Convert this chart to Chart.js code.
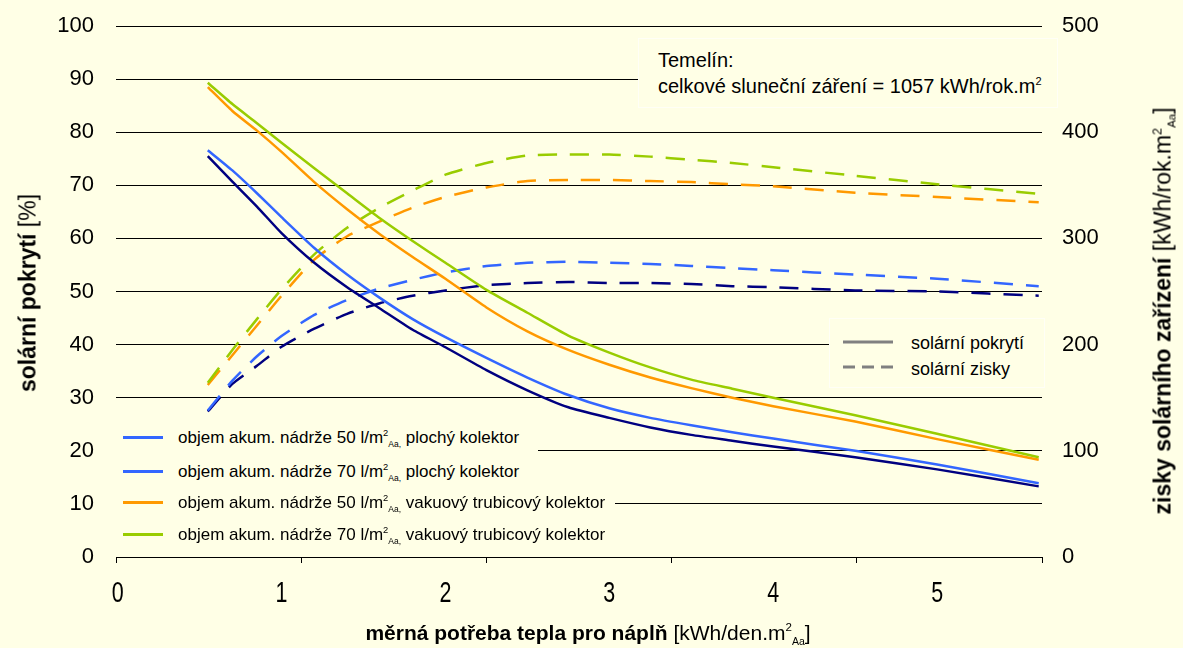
<!DOCTYPE html>
<html>
<head>
<meta charset="utf-8">
<script src="https://cdn.jsdelivr.net/npm/chart.js@4.4.1/dist/chart.umd.min.js"></script>
<style>
  body { margin: 0; background: #FFFFE6; }
  #wrap { position: relative; width: 1183px; height: 648px; font-family: "Liberation Sans", Arial, sans-serif; color: #000; }
  canvas { position: absolute; left: 0; top: 0; }
  .box { position: absolute; background: #FFFFE6; }
  .sup { font-size: 0.55em; position: relative; top: -0.75em; }
  .sub { font-size: 0.5em; position: relative; top: 0.45em; }
  .title { position: absolute; white-space: nowrap; transform: translate(-50%, -50%); }
  .vtitle { transform: translate(-50%, -50%) rotate(-90deg); }
  .row { position: absolute; left: 7px; height: 20px; font-size: 17px; line-height: 20px; white-space: nowrap; }
  .sw { display: inline-block; width: 40px; height: 3px; vertical-align: middle; margin-right: 15px; position: relative; top: -1px; }
</style>
</head>
<body>
<div id="wrap">
  <canvas id="solarChart" width="1183" height="648"></canvas>

  <!-- popisky os -->
  <div class="title vtitle" style="left:28px; top:293px; font-size:23px;"><b>solární pokrytí</b> [%]</div>
  <div class="title vtitle" style="left:1163px; top:311px; font-size:23px;"><b>zisky solárního zařízení</b> [kWh/rok.m<span class="sup">2</span><span class="sub">Aa</span>]</div>
  <div class="title" style="left:588px; top:633px; font-size:21px;"><b>měrná potřeba tepla pro náplň</b> [kWh/den.m<span class="sup">2</span><span class="sub">Aa</span>]</div>

  <!-- Temelín -->
  <div class="box" style="left:638px; top:38px; width:418px; height:68px; border:1px solid #FFFFF6;">
    <div style="position:absolute; left:19px; top:8px; font-size:20px; line-height:26px; white-space:nowrap;">Temelín:<br>celkové sluneční záření = 1057 kWh/rok.m<span class="sup">2</span></div>
  </div>

  <!-- legenda styl čar -->
  <div class="box" style="left:829px; top:318px; width:214px; height:68px; border:1px solid #FFFFF6;">
    <svg style="position:absolute; left:13px; top:20px;" width="52" height="30">
      <line x1="0" y1="3" x2="50" y2="3" stroke="#808080" stroke-width="3"/>
      <line x1="0" y1="28" x2="50" y2="28" stroke="#808080" stroke-width="3" stroke-dasharray="12 7"/>
    </svg>
    <div style="position:absolute; left:81px; top:11px; font-size:18px; line-height:26px; white-space:nowrap;">solární pokrytí<br>solární zisky</div>
  </div>

  <!-- legenda řad -->
  <div class="box" style="left:538px; top:495px; width:77px; height:20px;"></div>
  <div class="box" style="left:116px; top:418px; width:422px; height:138px;">
    <div class="row" style="top:10px;"><span class="sw" style="background:#3366FF"></span>objem akum. nádrže 50 l/m<span class="sup">2</span><span class="sub">Aa,</span> plochý kolektor</div>
    <div class="row" style="top:44px;"><span class="sw" style="background:#3366FF"></span>objem akum. nádrže 70 l/m<span class="sup">2</span><span class="sub">Aa,</span> plochý kolektor</div>
    <div class="row" style="top:75px;"><span class="sw" style="background:#FF9900"></span>objem akum. nádrže 50 l/m<span class="sup">2</span><span class="sub">Aa,</span> vakuový trubicový kolektor</div>
    <div class="row" style="top:107px;"><span class="sw" style="background:#99CC00"></span>objem akum. nádrže 70 l/m<span class="sup">2</span><span class="sub">Aa,</span> vakuový trubicový kolektor</div>
  </div>
</div>

<script>
// měrná potřeba tepla [kWh/den.m2]
const demand = [0.55, 0.7, 0.85, 1.0, 1.2, 1.4, 1.6, 1.8, 2.0, 2.25, 2.5, 2.75, 3.0, 3.25, 3.5, 3.75, 4.0, 4.5, 5.0, 5.62];

// solární pokrytí [%]
const coverFlat50 = [75.5, 70.7, 66.0, 61.0, 55.4, 50.8, 46.8, 42.8, 39.5, 35.2, 31.4, 28.2, 26.2, 24.4, 23.0, 21.9, 20.8, 18.8, 16.5, 13.3];
const coverFlat70 = [76.6, 72.8, 68.5, 64.0, 58.2, 53.2, 48.8, 44.8, 41.4, 37.5, 33.8, 30.5, 28.0, 26.2, 24.8, 23.5, 22.3, 20.0, 17.4, 13.9];
const coverVac50 = [88.5, 84.0, 80.3, 76.3, 70.6, 65.5, 60.8, 56.5, 52.4, 47.0, 42.5, 39.0, 36.2, 33.8, 31.8, 30.0, 28.4, 25.5, 22.2, 18.3];
const coverVac70 = [89.3, 85.3, 81.7, 78.0, 73.2, 68.5, 63.8, 59.5, 55.4, 50.3, 46.0, 41.7, 38.5, 35.7, 33.4, 31.7, 30.0, 26.7, 23.2, 18.8];

// solární zisky [kWh/rok.m2]
const gainFlat50 = [137, 163, 180, 198, 215, 229, 239, 246, 251, 256, 258, 259, 258, 258, 257, 255, 254, 251, 250, 246];
const gainFlat70 = [138, 166, 189, 208, 228, 242, 253, 261, 268, 274, 277, 278, 277, 276, 274, 272, 270, 266, 262, 255];
const gainVac50 = [162, 190, 218, 246, 280, 302, 316, 329, 339, 348, 354, 355, 355, 354, 353, 351, 349, 343, 339, 334];
const gainVac70 = [164, 195, 224, 252, 285, 310, 329, 345, 360, 371, 378, 379, 379, 377, 374, 371, 367, 359, 351, 342];

const xTicks = [0, 1, 2, 3, 4, 5];

const NAVY = "#000080";
const BLUE = "#3366FF";
const ORANGE = "#FF9900";
const GREEN = "#99CC00";

const pts = (vals) => vals.map((v, i) => ({ x: demand[i], y: v }));

function line(label, vals, color, axis, dashed) {
  return {
    label,
    data: pts(vals),
    borderColor: color,
    borderWidth: 2.5,
    borderDash: dashed ? [19, 13] : [],
    pointRadius: 0,
    fill: false,
    tension: 0.2,
    xAxisID: "x",
    yAxisID: axis
  };
}

// osy y pevné šířky, bez vnitřního odsazení nahoře a dole
const fixY = (w) => (s) => {
  s.width = w;
  s.paddingTop = 0;
  s.paddingBottom = 0;
};

// popisky osy x jsou v originále zúžené
const narrowTicks = {
  id: "narrowTicks",
  afterDraw(chart) {
    const sx = chart.scales.x;
    const c = chart.ctx;
    c.save();
    c.font = '29px "Liberation Sans", Arial, sans-serif';
    c.fillStyle = "#000";
    c.textAlign = "center";
    c.textBaseline = "middle";
    sx.ticks.forEach(t => {
      c.save();
      c.translate(sx.getPixelForValue(t.value), 594);
      c.scale(0.74, 1);
      c.fillText(String(t.value), 0, 0);
      c.restore();
    });
    c.restore();
  }
};

const ctx = document.getElementById("solarChart").getContext("2d");

new Chart(ctx, {
  type: "line",
  data: {
    datasets: [
      line("pokrytí 70 vakuový", coverVac70, GREEN, "y", false),
      line("pokrytí 50 vakuový", coverVac50, ORANGE, "y", false),
      line("pokrytí 70 plochý", coverFlat70, BLUE, "y", false),
      line("pokrytí 50 plochý", coverFlat50, NAVY, "y", false),
      line("zisky 70 vakuový", gainVac70, GREEN, "y1", true),
      line("zisky 50 vakuový", gainVac50, ORANGE, "y1", true),
      line("zisky 70 plochý", gainFlat70, BLUE, "y1", true),
      line("zisky 50 plochý", gainFlat50, NAVY, "y1", true)
    ]
  },
  options: {
    responsive: false,
    animation: false,
    layout: { padding: { top: 26, left: 0, right: 0, bottom: 0 } },
    plugins: {
      legend: { display: false },
      tooltip: { enabled: false }
    },
    scales: {
      x2: {
        axis: "x",
        type: "linear",
        position: "bottom",
        weight: 1,
        min: 0,
        max: 5,
        afterBuildTicks: (s) => { s.ticks = xTicks.map(v => ({ value: v })); },
        afterFit: (s) => { s.height = 8; },
        ticks: { display: false },
        grid: { drawOnChartArea: false, drawTicks: true, tickLength: 6, color: "#000", lineWidth: 1 },
        border: { display: true, color: "#000", width: 1 }
      },
      x: {
        type: "linear",
        position: "bottom",
        weight: 2,
        min: -0.01,
        max: 5.64,
        afterBuildTicks: (s) => { s.ticks = xTicks.map(v => ({ value: v })); },
        afterFit: (s) => { s.height = 83; },
        ticks: { display: false },
        grid: { display: false, drawTicks: false },
        border: { display: false }
      },
      y: {
        position: "left",
        min: 0,
        max: 100,
        afterFit: fixY(116),
        ticks: {
          stepSize: 10,
          color: "#000",
          padding: 22,
          font: { family: '"Liberation Sans", Arial, sans-serif', size: 22 }
        },
        grid: { color: "#000", lineWidth: 1, drawTicks: false },
        border: { display: false }
      },
      y1: {
        position: "right",
        min: 0,
        max: 500,
        afterFit: fixY(141),
        ticks: {
          stepSize: 100,
          color: "#000",
          padding: 20,
          font: { family: '"Liberation Sans", Arial, sans-serif', size: 22 }
        },
        grid: { drawOnChartArea: false, drawTicks: false },
        border: { display: false }
      }
    }
  },
  plugins: [narrowTicks]
});
</script>
</body>
</html>
